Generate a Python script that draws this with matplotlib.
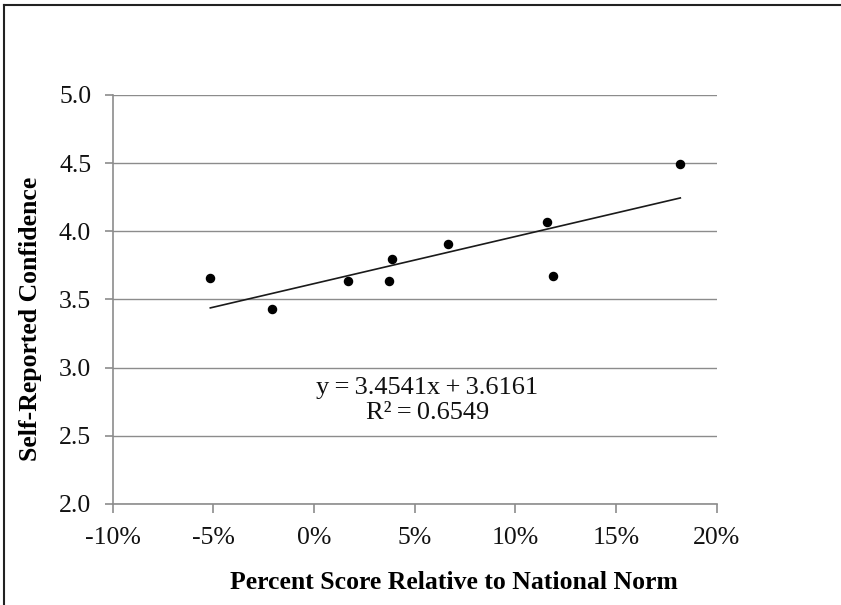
import matplotlib
matplotlib.use('Agg')
from matplotlib import pyplot as plt
from matplotlib.lines import Line2D
from matplotlib.ticker import FuncFormatter
import numpy as np

# percent score relative to national norm (fraction), self-reported confidence
score = [-0.0515, -0.0211, 0.0171, 0.0372, 0.0388, 0.0666, 0.1157, 0.1190, 0.1820]
confidence = [3.66, 3.43, 3.635, 3.635, 3.80, 3.907, 4.068, 3.672, 4.496]

slope = 3.4541
intercept = 3.6161
r2 = 0.6549

xticks = [-0.10, -0.05, 0.0, 0.05, 0.10, 0.15, 0.20]
yticks = [2.0, 2.5, 3.0, 3.5, 4.0, 4.5, 5.0]

plt.rcParams['font.family'] = ['Liberation Serif', 'DejaVu Serif']

fig = plt.figure(figsize=(8.41, 6.05), dpi=100)
ax = fig.add_axes([0.134, 0.167, 0.718, 0.676])

grey = '#8c8c8c'
ax.set_xlim(-0.10, 0.20)
ax.set_ylim(2.0, 5.0)
ax.set_xticks(xticks)
ax.set_yticks(yticks)
ax.xaxis.set_major_formatter(FuncFormatter(lambda v, p: '%d%%' % round(v * 100)))
ax.yaxis.set_major_formatter(FuncFormatter(lambda v, p: '%.1f' % v))
ax.grid(axis='y', color=grey, linewidth=1.0)
ax.set_axisbelow(True)

for side in ['top', 'right']:
    ax.spines[side].set_visible(False)
for side in ['left', 'bottom']:
    ax.spines[side].set_color(grey)
    ax.spines[side].set_linewidth(1.2)

ax.tick_params(axis='x', direction='out', length=6.5, width=1.2, color=grey,
               labelsize=18.5, pad=10, labelcolor='#111111')
ax.tick_params(axis='y', direction='out', length=5.5, width=1.2, color=grey,
               labelsize=18.5, pad=10, labelcolor='#111111')

ax.scatter(score, confidence, s=34, color='black', zorder=3, clip_on=False)

xs = np.array([min(score), max(score)])
ax.plot(xs, slope * xs + intercept, color='#1a1a1a', linewidth=1.2, zorder=2)

ts = '\u2009'
ax.text(0.0564, 2.85, 'y%s=%s%.4fx%s+%s%.4f' % (ts, ts, slope, ts, ts, intercept),
        fontsize=19, ha='center', va='center', color='#111111')
ax.text(0.0564, 2.667, 'R²%s=%s%.4f' % (ts, ts, r2), fontsize=19,
        ha='center', va='center', color='#111111')

ax.set_xlabel('Percent Score Relative to National Norm', fontsize=18.5, fontweight='bold')
ax.set_ylabel('Self-Reported Confidence', fontsize=18.5, fontweight='bold')
ax.xaxis.set_label_coords(0.565, -0.164)
ax.yaxis.set_label_coords(-0.117, 0.4535)

# chart frame (only top and left edges visible in the reference)
fig.add_artist(Line2D([4 / 841, 1.0], [1 - 5 / 605, 1 - 5 / 605], color='#222222',
                      linewidth=1.5, transform=fig.transFigure))
fig.add_artist(Line2D([4 / 841, 4 / 841], [0.0, 1 - 5 / 605], color='#222222',
                      linewidth=1.5, transform=fig.transFigure))

fig.savefig('out.png', dpi=100)
